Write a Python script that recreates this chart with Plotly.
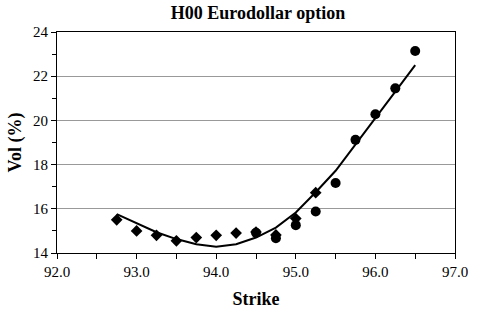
import plotly.graph_objects as go

# Data
diamond_strike = [92.75, 93.0, 93.25, 93.5, 93.75, 94.0, 94.25, 94.5, 94.75, 95.0, 95.25]
diamond_vol = [15.5, 15.0, 14.8, 14.55, 14.7, 14.8, 14.9, 14.95, 14.82, 15.56, 16.73]

circle_strike = [94.5, 94.75, 95.0, 95.25, 95.5, 95.75, 96.0, 96.25, 96.5]
circle_vol = [14.92, 14.67, 15.26, 15.88, 17.17, 19.12, 20.28, 21.45, 23.14]

fit_strike = [92.75, 93.0, 93.25, 93.5, 93.75, 94.0, 94.25, 94.5, 94.75, 95.0, 95.25,
              95.5, 95.75, 96.0, 96.25, 96.5]
fit_vol = [15.76, 15.35, 14.94, 14.63, 14.4, 14.28, 14.4, 14.7, 15.15, 15.83, 16.75,
           17.72, 18.9, 20.07, 21.3, 22.5]

x_tickvals = [92.0, 93.0, 94.0, 95.0, 96.0, 97.0]
y_tickvals = [14, 16, 18, 20, 22, 24]

fig = go.Figure()
fig.add_trace(go.Scatter(x=fit_strike, y=fit_vol, mode="lines",
                         line=dict(color="black", width=2), showlegend=False))
fig.add_trace(go.Scatter(x=diamond_strike, y=diamond_vol, mode="markers",
                         marker=dict(symbol="diamond", size=9, color="black"),
                         showlegend=False))
fig.add_trace(go.Scatter(x=circle_strike, y=circle_vol, mode="markers",
                         marker=dict(symbol="circle", size=10, color="black"),
                         showlegend=False))

font = "Liberation Serif, Times New Roman, serif"
fig.update_layout(
    width=480, height=318,
    margin=dict(l=57, r=21, t=32, b=64),
    paper_bgcolor="white", plot_bgcolor="white",
    font=dict(family=font, size=15, color="black"),
    title=dict(text="<b>H00 Eurodollar option</b>", x=(57 + 459) / 2 / 480, xanchor="center",
               y=1 - 12.5 / 318, yanchor="middle", font=dict(family=font, size=18)),
    xaxis=dict(range=[92.0, 97.0], tickvals=x_tickvals,
               ticktext=[f"{v:.1f}" for v in x_tickvals],
               ticks="outside", ticklen=5, tickcolor="black",
               minor=dict(dtick=0.5, ticks="outside", ticklen=5, tickcolor="black"),
               showline=True, linecolor="black", linewidth=1, mirror=True,
               showgrid=False, zeroline=False,
               title=dict(text="<b>Strike</b>", font=dict(family=font, size=18), standoff=13)),
    yaxis=dict(range=[14, 24], tickvals=y_tickvals,
               ticks="outside", ticklen=5, tickcolor="black",
               minor=dict(dtick=1, ticks="outside", ticklen=4, tickcolor="black", showgrid=False),
               showline=True, linecolor="black", linewidth=1, mirror=True,
               showgrid=True, gridcolor="#999999", gridwidth=1, zeroline=False,
               title=dict(text="<b>Vol (%)</b>", font=dict(family=font, size=18), standoff=6)),
)

fig.write_html("out.html")
